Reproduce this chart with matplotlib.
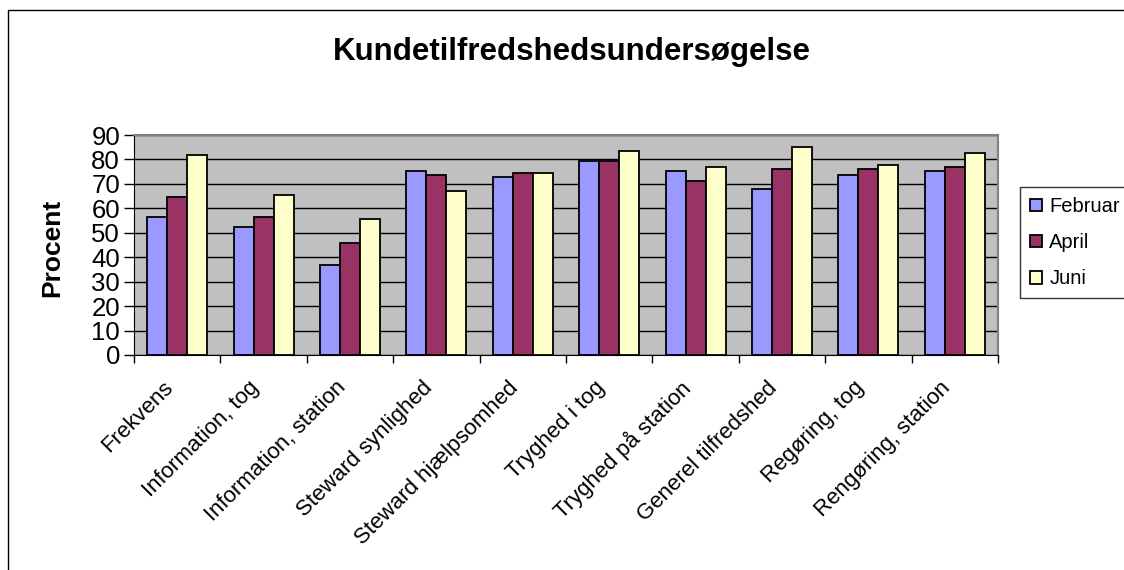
import matplotlib
matplotlib.use('Agg')
import matplotlib.pyplot as plt
import numpy as np
from matplotlib.patches import Rectangle
from matplotlib.ticker import FixedLocator

plt.rcParams['font.family'] = ['Liberation Sans', 'DejaVu Sans']

categories = ['Frekvens', 'Information, tog', 'Information, station', 'Steward synlighed',
              'Steward hjælpsomhed', 'Tryghed i tog', 'Tryghed på station',
              'Generel tilfredshed', 'Regøring, tog', 'Rengøring, station']
februar = [56.3, 52.2, 36.7, 75.1, 72.7, 79.2, 75.3, 67.8, 73.6, 75.3]
april = [64.6, 56.3, 45.8, 73.6, 74.3, 79.2, 71.2, 76.0, 76.1, 76.9]
juni = [81.8, 65.5, 55.5, 67.0, 74.3, 83.5, 76.9, 85.1, 77.7, 82.5]
series_names = ['Februar', 'April', 'Juni']
colors = ['#9999FF', '#993366', '#FFFFCC']
yticks = list(range(0, 100, 10))

fig = plt.figure(figsize=(11.24, 5.70), dpi=100)
ax = fig.add_axes([134/1124, 1-355/570, 864/1124, 220/570])
ax.set_facecolor('#C0C0C0')

x = np.arange(len(categories))
w = 0.2315
for i, (vals, name, c) in enumerate(zip([februar, april, juni], series_names, colors)):
    ax.bar(x + (i - 1) * w, vals, width=w, color=c, edgecolor='black', linewidth=1.3,
           label=name, zorder=3)

ax.set_xlim(-0.5, len(categories) - 0.5)
ax.set_ylim(0, 90)
ax.set_yticks(yticks)
ax.yaxis.grid(True, color='black', linewidth=1, zorder=1)
ax.set_axisbelow(True)
ax.tick_params(axis='y', labelsize=18.5, length=7, width=1, direction='out', pad=3)

ax.set_xticks(x)
ax.set_xticklabels(categories, rotation=45, ha='right', va='top', fontsize=16)
ax.tick_params(axis='x', which='major', length=0, pad=16)
ax.xaxis.set_minor_locator(FixedLocator(np.arange(-0.5, len(categories), 1.0)))
ax.tick_params(axis='x', which='minor', length=6, width=1, direction='out')

for s in ['top', 'right']:
    ax.spines[s].set_color('#808080')
    ax.spines[s].set_linewidth(1.5)
ax.spines['left'].set_color('black')
ax.spines['bottom'].set_color('black')

fig.text(572/1124, 1-52/570, 'Kundetilfredshedsundersøgelse', fontsize=22.5,
         fontweight='bold', ha='center', va='center')
fig.text(52/1124, 1-248/570, 'Procent', fontsize=19, fontweight='bold',
         rotation=90, ha='center', va='center')

leg = fig.legend(loc='upper left', bbox_to_anchor=(1020/1124, 1-187/570),
                 fontsize=14.5, frameon=True, fancybox=False, edgecolor='black',
                 handlelength=0.6, handleheight=0.6, handletextpad=0.35,
                 labelspacing=0.85, borderpad=0.5, borderaxespad=0)
leg.get_frame().set_linewidth(1)

fig.patches.append(Rectangle((8/1124, -0.1), 1.5, 1.1 - 10/570, transform=fig.transFigure,
                             fill=False, edgecolor='black', linewidth=1))

fig.savefig('out.png', dpi=100)
